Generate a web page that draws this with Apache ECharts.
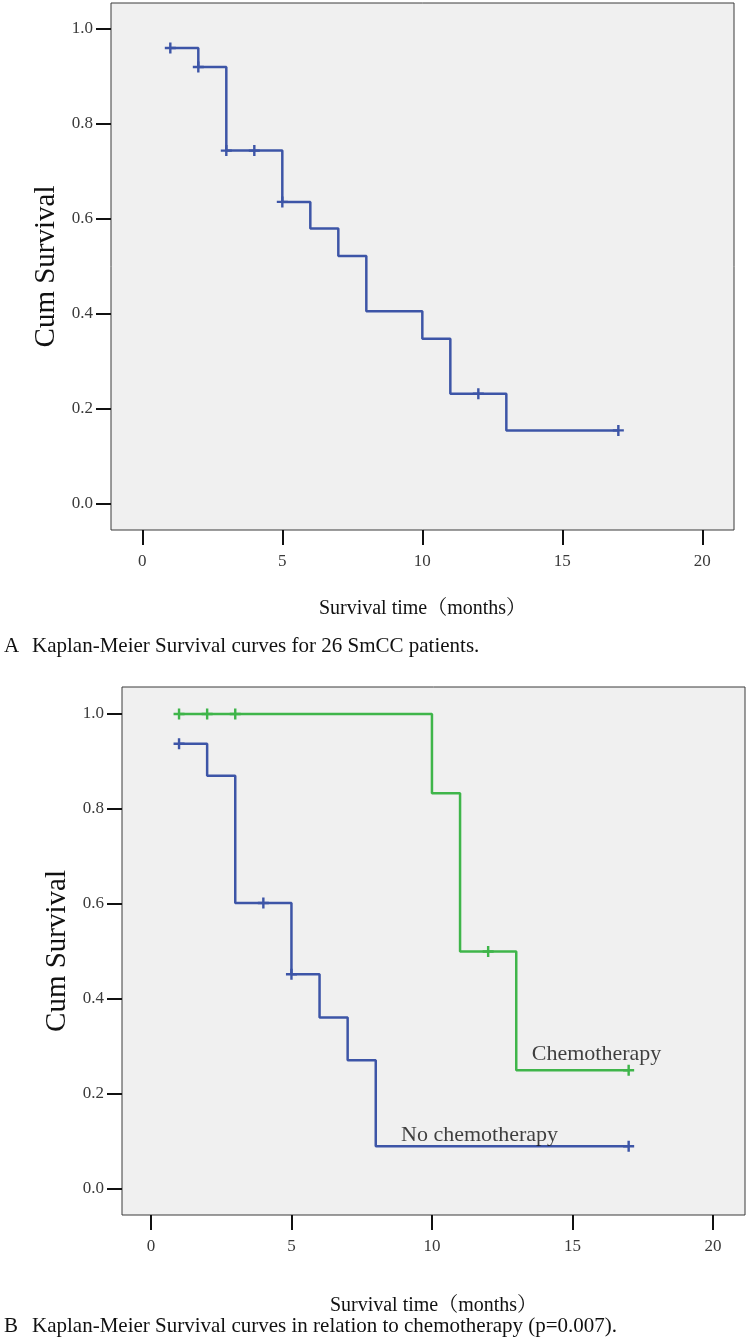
<!DOCTYPE html>
<html>
<head>
<meta charset="utf-8">
<script src="https://cdn.jsdelivr.net/npm/echarts@6/dist/echarts.min.js"></script>
<style>
html,body{margin:0;padding:0;background:#fff;}
#chart{width:748px;height:1339px;}
</style>
</head>
<body>
<div id="chart"></div>
<script>
// ---- Data ----
// Panel A: overall Kaplan-Meier curve (time in months, cumulative survival after the step)
const overallTimes = [1, 2, 3, 5, 6, 7, 8, 10, 11, 13, 17];
const overallSurv  = [0.96, 0.92, 0.744, 0.636, 0.58, 0.522, 0.406, 0.348, 0.232, 0.155, 0.155];
const overallCensorTimes = [1, 2, 3, 4, 5, 12, 17];
const overallCensorSurv  = [0.96, 0.92, 0.744, 0.744, 0.636, 0.232, 0.155];

// Panel B: chemotherapy group
const chemoTimes = [1, 10, 11, 13, 17];
const chemoSurv  = [1.0, 0.833, 0.5, 0.25, 0.25];
const chemoCensorTimes = [1, 2, 3, 12, 17];
const chemoCensorSurv  = [1.0, 1.0, 1.0, 0.5, 0.25];

// Panel B: no chemotherapy group
const noChemoTimes = [1, 2, 3, 5, 6, 7, 8, 17];
const noChemoSurv  = [0.9375, 0.87, 0.602, 0.452, 0.361, 0.271, 0.09, 0.09];
const noChemoCensorTimes = [1, 4, 5, 17];
const noChemoCensorSurv  = [0.9375, 0.602, 0.452, 0.09];

// Tick values / labels
const xTicks = [0, 5, 10, 15, 20];
const yTicks = [0, 0.2, 0.4, 0.6, 0.8, 1.0];
const xTitle = 'Survival time（months）';
const yTitle = 'Cum Survival';
const groupNames = ['Chemotherapy', 'No chemotherapy'];
const groupLabelAt = [[13.55, 0.284], [8.9, 0.114]];
const captionLetters = ['A', 'B'];
const captions = [
  'Kaplan-Meier Survival curves for 26 SmCC patients.',
  'Kaplan-Meier Survival curves in relation to chemotherapy (p=0.007).'
];

// ---- Styles ----
const FONT = "'Liberation Serif','Times New Roman','Noto Serif CJK SC','Noto Sans CJK SC',serif";
const BLUE = '#3d55a7';
const GREEN = '#3fb54a';
const PLUS = 'path://M-0.22,-1H0.22V-0.22H1V0.22H0.22V1H-0.22V0.22H-1V-0.22H-0.22Z';

const zip = (a, b) => a.map((v, i) => [v, b[i]]);

function xAxisCfg(gridIndex, min, max, gap) {
  return {
    type: 'value', gridIndex, min, max,
    axisLine: {show: false, onZero: false},
    splitLine: {show: false},
    axisTick: {show: true, customValues: xTicks, length: 15, inside: false,
               lineStyle: {color: '#111', width: 2}},
    axisLabel: {show: true, customValues: xTicks, margin: 23,
                formatter: v => String(v),
                fontFamily: FONT, fontSize: 17, color: '#3a3a3a'},
    name: xTitle, nameLocation: 'middle', nameGap: gap,
    nameTextStyle: {fontFamily: FONT, fontSize: 20, color: '#111'}
  };
}
function yAxisCfg(gridIndex, min, max) {
  return {
    type: 'value', gridIndex, min, max,
    axisLine: {show: false, onZero: false},
    splitLine: {show: false},
    axisTick: {show: true, customValues: yTicks, length: 15, inside: false,
               lineStyle: {color: '#111', width: 2}},
    axisLabel: {show: true, customValues: yTicks, margin: 18,
                formatter: v => v.toFixed(1),
                fontFamily: FONT, fontSize: 17, color: '#3a3a3a'},
    name: yTitle, nameLocation: 'middle', nameRotate: 90, nameGap: 50,
    nameTextStyle: {fontFamily: FONT, fontSize: 29, color: '#111'}
  };
}
function stepLine(idx, data, color) {
  return {
    type: 'line', xAxisIndex: idx, yAxisIndex: idx, step: 'end',
    data, symbol: 'none', silent: true,
    lineStyle: {color, width: 2.5},
    z: 3
  };
}
function censors(idx, data, color) {
  return {
    type: 'scatter', xAxisIndex: idx, yAxisIndex: idx,
    data, symbol: PLUS, symbolSize: [11, 11], silent: true,
    itemStyle: {color, opacity: 1},
    z: 4
  };
}
function groupLabel(i) {
  return {
    type: 'scatter', xAxisIndex: 1, yAxisIndex: 1,
    data: [groupLabelAt[i]], symbolSize: 0, silent: true,
    label: {show: true, position: 'right', distance: 0,
            formatter: groupNames[i],
            fontFamily: FONT, fontSize: 22, color: '#111'},
    z: 5
  };
}

const option = {
  animation: false,
  backgroundColor: '#ffffff',
  title: [
    {text: captionLetters[0], left: 4, top: 636, padding: 0,
     textStyle: {fontFamily: FONT, fontSize: 21, fontWeight: 'normal', color: '#111'}},
    {text: captions[0], left: 32, top: 636, padding: 0,
     textStyle: {fontFamily: FONT, fontSize: 21, fontWeight: 'normal', color: '#111'}},
    {text: captionLetters[1], left: 4, top: 1316, padding: 0,
     textStyle: {fontFamily: FONT, fontSize: 21, fontWeight: 'normal', color: '#111'}},
    {text: captions[1], left: 32, top: 1316, padding: 0,
     textStyle: {fontFamily: FONT, fontSize: 21, fontWeight: 'normal', color: '#111'}}
  ],
  grid: [
    {left: 111, top: 3, width: 623, height: 527, show: true,
     backgroundColor: '#f0f0f0', borderColor: '#3a3a3a', borderWidth: 1},
    {left: 122, top: 687, width: 623, height: 528, show: true,
     backgroundColor: '#f0f0f0', borderColor: '#3a3a3a', borderWidth: 1}
  ],
  xAxis: [
    xAxisCfg(0, -1.118, 21.13, 69),
    xAxisCfg(1, -1.03, 21.14, 81)
  ],
  yAxis: [
    yAxisCfg(0, -0.0547, 1.0547),
    yAxisCfg(1, -0.0547, 1.0568)
  ],
  series: [
    stepLine(0, zip(overallTimes, overallSurv), BLUE),
    censors(0, zip(overallCensorTimes, overallCensorSurv), BLUE),
    stepLine(1, zip(chemoTimes, chemoSurv), GREEN),
    censors(1, zip(chemoCensorTimes, chemoCensorSurv), GREEN),
    stepLine(1, zip(noChemoTimes, noChemoSurv), BLUE),
    censors(1, zip(noChemoCensorTimes, noChemoCensorSurv), BLUE),
    groupLabel(0),
    groupLabel(1)
  ]
};

const chart = echarts.init(document.getElementById('chart'), null, {renderer: 'canvas'});
chart.setOption(option);
</script>
</body>
</html>
